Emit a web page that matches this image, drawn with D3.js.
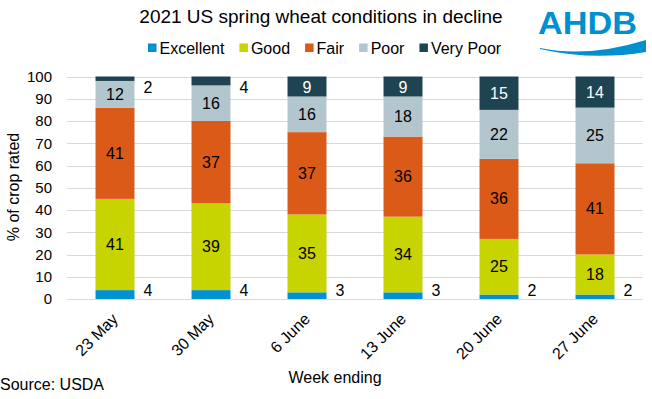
<!DOCTYPE html>
<html>
<head>
<meta charset="utf-8">
<script src="https://cdn.jsdelivr.net/npm/d3@7"></script>
<style>
  body { margin: 0; background: #fff; }
  text { font-family: "Liberation Sans", Arial, sans-serif; fill: #000; }
  .grid line { stroke: #d9d9d9; stroke-width: 1; }
</style>
</head>
<body>
<script>
(function(){
//chart data
var weeks = ["23 May", "30 May", "6 June", "13 June", "20 June", "27 June"];
var ratings = ["Excellent", "Good", "Fair", "Poor", "Very Poor"];
var excellent = [4, 4, 3, 3, 2, 2];
var good = [41, 39, 35, 34, 25, 18];
var fair = [41, 37, 37, 36, 36, 41];
var poor = [12, 16, 16, 18, 22, 25];
var veryPoor = [2, 4, 9, 9, 15, 14];
var yTicks = [0, 10, 20, 30, 40, 50, 60, 70, 80, 90, 100];

var colors = ["#0091d4", "#c8d400", "#db5a17", "#b3c6ce", "#1f4451"];
var labelColors = ["#000", "#000", "#000", "#000", "#fff"];

//build rows for the stack layout
var series = [excellent, good, fair, poor, veryPoor];
var rows = weeks.map(function(w, i){
    var row = {week: w};
    ratings.forEach(function(r, j){ row[r] = series[j][i]; });
    return row;
});

var width = 652, height = 399;
var svg = d3.select("body").append("svg")
    .attr("width", width)
    .attr("height", height);

//scales
var x = d3.scaleBand()
    .domain(weeks)
    .range([67, 643])
    .paddingInner(0.594)
    .paddingOuter(0.297);
var y = d3.scaleLinear()
    .domain([0, 100])
    .range([299, 76.5]);

//title
svg.append("text")
    .attr("x", 321)
    .attr("y", 23)
    .attr("text-anchor", "middle")
    .style("font-size", "19px")
    .text("2021 US spring wheat conditions in decline");

//AHDB logo
var logo = svg.append("g");
logo.append("text")
    .attr("x", 538)
    .attr("y", 34)
    .attr("textLength", 99)
    .attr("lengthAdjust", "spacingAndGlyphs")
    .style("font-size", "31px")
    .style("font-weight", "bold")
    .style("fill", "#0090cf")
    .text("AHDB");
logo.append("path")
    .attr("d", "M540,48 Q588,58 646,40 L646,52 Q592,61 540,49 Z")
    .style("fill", "#0090cf");

//legend
var legend = svg.append("g").attr("class", "legend");
var lx = 148;
ratings.forEach(function(r, i){
    legend.append("rect")
        .attr("x", lx)
        .attr("y", 43.5)
        .attr("width", 8.5)
        .attr("height", 8.5)
        .style("fill", colors[i]);
    var t = legend.append("text")
        .attr("x", lx + 11.5)
        .attr("y", 53.5)
        .style("font-size", "16px")
        .text(r);
    lx += 11.5 + t.node().getComputedTextLength() + 15;
});

//gridlines
svg.append("g")
    .attr("class", "grid")
    .selectAll("line")
    .data(yTicks)
    .enter()
    .append("line")
    .attr("x1", 67)
    .attr("x2", 643)
    .attr("y1", function(d){ return Math.round(y(d)) + 0.5; })
    .attr("y2", function(d){ return Math.round(y(d)) + 0.5; });

//y axis labels
var yAxis = d3.axisLeft(y)
    .tickValues(yTicks)
    .tickSize(0)
    .tickPadding(15);
var ax = svg.append("g")
    .attr("transform", "translate(67,0)")
    .call(yAxis);
ax.select(".domain").remove();
ax.selectAll("text")
    .style("font-size", "15px")
    .style("font-family", "'Liberation Sans', Arial, sans-serif")
    .attr("fill", "#000");

//x axis labels
var xAxis = d3.axisBottom(x).tickSize(0).tickPadding(0);
var bx = svg.append("g")
    .call(xAxis);
bx.select(".domain").remove();
bx.selectAll(".tick text")
    .attr("x", 0)
    .attr("y", 0)
    .attr("dy", 0)
    .attr("text-anchor", "end")
    .attr("transform", "translate(4,320) rotate(-45)")
    .style("font-size", "16px")
    .style("font-family", "'Liberation Sans', Arial, sans-serif")
    .attr("fill", "#000");

//stacked bars
var stack = d3.stack().keys(ratings)(rows);
var layers = svg.selectAll(".layer")
    .data(stack)
    .enter()
    .append("g")
    .attr("class", "layer")
    .style("fill", function(d, i){ return colors[i]; });

layers.selectAll("rect")
    .data(function(d){ return d; })
    .enter()
    .append("rect")
    .attr("x", function(d){ return x(d.data.week); })
    .attr("width", x.bandwidth())
    .attr("y", function(d){ return y(d[1]); })
    .attr("height", function(d){ return y(d[0]) - y(d[1]); });

//data labels, small segments are labelled beside the bar
stack.forEach(function(layer, i){
    svg.append("g")
        .selectAll("text")
        .data(layer)
        .enter()
        .append("text")
        .attr("x", function(d){
            var v = d[1] - d[0];
            return v < 5 ? x(d.data.week) + x.bandwidth() + 9 : x(d.data.week) + x.bandwidth() / 2;
        })
        .attr("y", function(d){
            var cy = y((d[0] + d[1]) / 2);
            return Math.max(87, Math.min(290, cy));
        })
        .attr("dy", "0.35em")
        .attr("text-anchor", function(d){ return (d[1] - d[0]) < 5 ? "start" : "middle"; })
        .style("font-size", "16px")
        .style("fill", function(d){ return (d[1] - d[0]) < 5 ? "#000" : labelColors[i]; })
        .text(function(d){ return d[1] - d[0]; });
});

//axis titles
svg.append("text")
    .attr("transform", "translate(19,187) rotate(-90)")
    .attr("text-anchor", "middle")
    .style("font-size", "16px")
    .text("% of crop rated");
svg.append("text")
    .attr("x", 335)
    .attr("y", 383)
    .attr("text-anchor", "middle")
    .style("font-size", "16px")
    .text("Week ending");
svg.append("text")
    .attr("x", 0)
    .attr("y", 390)
    .style("font-size", "16px")
    .text("Source: USDA");
})();
</script>
</body>
</html>
